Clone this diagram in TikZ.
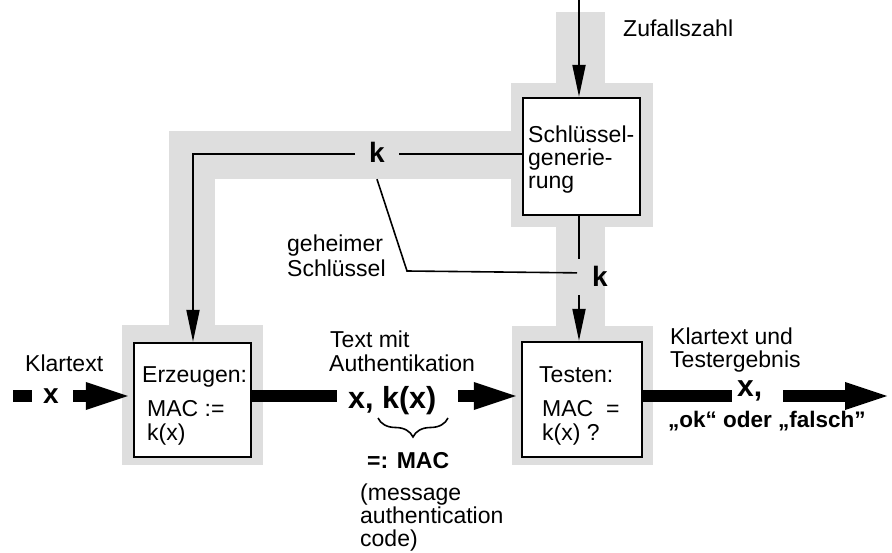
\documentclass[tikz,border=0pt]{standalone}
\usepackage{fontspec}
\setmainfont{Liberation Sans}
\usetikzlibrary{arrows.meta,decorations.pathreplacing}
\definecolor{chanfill}{HTML}{DEDEDE}
\newcommand\txtsz{\fontsize{23}{23}\selectfont}
\begin{document}
\begin{tikzpicture}[x=1pt,y=-1pt,
  procbox/.style={draw, line width=2.4pt, fill=white, inner sep=0pt},
  lbl/.style={anchor=base west, inner sep=0pt, font=\txtsz},
  keylbl/.style={anchor=base west, inner xsep=14pt, inner ysep=8pt, font=\fontsize{28}{28}\selectfont\bfseries},
  thinline/.style={line width=2pt},
  thinarrow/.style={line width=2pt, -{Triangle[length=32pt,width=13pt]}},
  thickline/.style={line width=11pt},
  thickarrow/.style={line width=11pt, -{Triangle[length=47pt,width=24pt]}}]

\useasboundingbox (0,0) rectangle (892,553);

% grey channels behind the blocks
\fill[chanfill] (556,12) rectangle (605,84);
\fill[chanfill] (511,83) rectangle (653,227);
\fill[chanfill] (169,131) rectangle (512,179);
\fill[chanfill] (169,131) rectangle (215,326);
\fill[chanfill] (122,325) rectangle (263,465);
\fill[chanfill] (556,226) rectangle (605,327);
\fill[chanfill] (512,326) rectangle (653,465);

% blocks
\node[procbox, minimum width=117pt, minimum height=117pt] (sg) at (581.5,156.5) {};
\node[procbox, minimum width=117pt, minimum height=114pt] (erz) at (192.5,400) {};
\node[procbox, minimum width=120pt, minimum height=115pt] (tst) at (582,399.5) {};

% texts inside the blocks
\node[lbl] (sg1) at (528,143) {Schlüssel-};
\node[lbl] (sg2) at (528,166) {generie-};
\node[lbl] (sg3) at (528,189) {rung};
\node[lbl] (erz1) at (142,383) {Erzeugen:};
\node[lbl] (erz2) at (147,417) {MAC :=};
\node[lbl] (erz3) at (147,440) {k(x)};
\node[lbl] (tst1) at (539,383) {Testen:};
\node[lbl] (tst2) at (542,417) {MAC\ \ =};
\node[lbl] (tst3) at (542,440) {k(x) ?};

% key labels
\node[keylbl, inner ysep=16pt] (kup) at (355,163) {k};
\node[keylbl, inner xsep=15pt, inner ysep=8pt] (kdn) at (577,287) {k};

% random number input
\coordinate (zin) at (579,0);
\node[lbl] (zuf) at (623,37) {Zufallszahl};
\draw[thinarrow] (zin) -- (zin |- sg.north);

% key distribution
\coordinate (kl) at (193,154);
\draw[thinline] (sg.west |- kl) -- (kup.east |- kl);
\draw[thinarrow] (kup.west |- kl) -- (kl) -- (kl |- erz.north);
\draw[thinline] (zin |- sg.south) -- (zin |- kdn.north);
\draw[thinarrow] (zin |- kdn.south) -- (zin |- tst.north);

% annotation of the secret key
\node[lbl] (geh1) at (287,252) {geheimer};
\node[lbl] (geh2) at (287,277) {Schlüssel};
\coordinate (kbend) at (407,271);
\draw[line width=1.6pt] (kup.south) -- (kbend) -- ([yshift=4pt]kdn.west);

% main data flow
\coordinate (flow) at (0,396);
\coordinate (d1) at (13,396);
\coordinate (d2) at (32,396);
\coordinate (a1) at (73,396);
\node[lbl] (klar) at (25,372) {Klartext};
\node[anchor=base west, inner sep=0pt, font=\fontsize{28}{28}\selectfont\bfseries] (xin) at (43,403) {x};
\draw[thickline] (d1) -- (d2);
\draw[thickarrow] (a1) -- (a1 -| erz.west);

\coordinate (m1) at (337,396);
\coordinate (m2) at (458,396);
\node[lbl] (tm1) at (330,348) {Text mit};
\node[lbl] (tm2) at (329,371) {Authentikation};
\node[anchor=base west, inner sep=0pt, font=\fontsize{30.5}{30}\selectfont\bfseries] (xkx) at (348,408) {x, k(x)};
\draw[thickline] (erz.east |- flow) -- (m1);
\draw[thickarrow] (m2) -- (m2 -| tst.west);

\draw[decorate, decoration={brace, mirror, amplitude=19pt}, line width=1.6pt] (378,418) -- (448,418);
\node[anchor=base west, inner sep=0pt, font=\txtsz\bfseries] (mac) at (367,468) {=: MAC};
\node[lbl] (msg1) at (360,500) {(message};
\node[lbl] (msg2) at (360,523) {authentication};
\node[lbl] (msg3) at (360,546) {code)};

\coordinate (r1) at (732,396);
\coordinate (r2) at (783,396);
\coordinate (r3) at (892,396);
\node[lbl] (kt1) at (670,345) {Klartext und};
\node[lbl] (kt2) at (670,367) {Testergebnis};
\node[anchor=base west, inner sep=0pt, font=\fontsize{30}{30}\selectfont\bfseries] (xout) at (737,396) {x,};
\node[anchor=base west, inner sep=0pt, font=\fontsize{22.5}{23}\selectfont\bfseries] (res) at (668,428) {„ok“ oder „falsch”};
\draw[thickline] (tst.east |- flow) -- (r1);
\draw[thickarrow] (r2) -- (r3);

\end{tikzpicture}
\end{document}
